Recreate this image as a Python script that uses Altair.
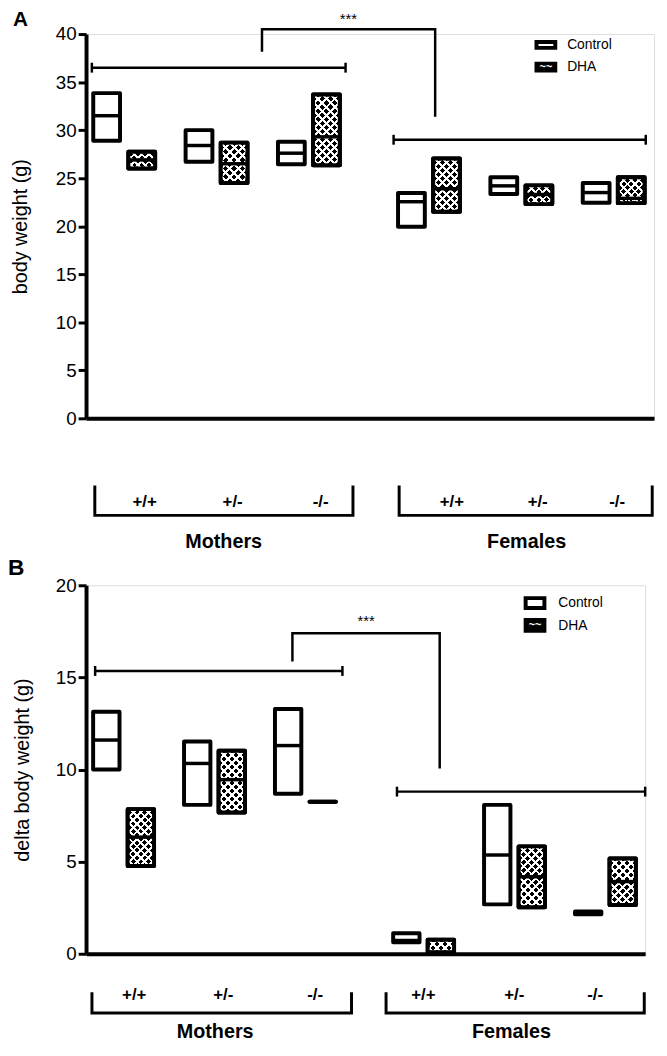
import altair as alt

FONT = "Liberation Sans"

GROUPS = ["Mothers", "Females"]
GENOTYPES = ["+/+", "+/-", "-/-"]
TREATMENTS = ["Control", "DHA"]

# Floating bars (min..max) with a line at the mean.
# Order: Mothers +/+ Control, DHA, +/- Control, DHA, -/- Control, DHA, then Females the same way.
A_MIN = [28.9, 26.0, 26.7, 24.5, 26.45, 26.35, 19.95, 21.5, 23.35, 22.3, 22.45, 22.4]
A_MAX = [33.85, 27.75, 30.0, 28.7, 28.8, 33.7, 23.45, 27.05, 25.1, 24.25, 24.5, 25.1]
A_MEAN = [31.5, 26.9, 28.4, 26.5, 27.6, 29.3, 22.55, 23.9, 24.2, 23.3, 23.5, 22.9]

B_MIN = [10.0, 4.76, 8.08, 7.67, 8.68, 8.25, 0.63, 0.0, 2.68, 2.52, 2.14, 2.65]
B_MAX = [13.14, 7.85, 11.52, 11.02, 13.28, 8.25, 1.11, 0.76, 8.08, 5.83, 2.29, 5.17]
B_MEAN = [11.6, 6.33, 10.33, 9.45, 11.3, 8.25, 0.72, 0.1, 5.36, 4.18, 2.2, 3.92]

A_TICKS = [0, 5, 10, 15, 20, 25, 30, 35, 40]
B_TICKS = [0, 5, 10, 15, 20]

# significance annotations (x in slot units, y in data units)
A_SIG_Y = [36.5, 29.0]
A_SIG_X = [0.063, 3.33]
A_SIG_X2 = [2.81, 6.06]
A_BRACKET_X = [1.905, 1.905, 3.78, 3.78]
A_BRACKET_Y = [38.15, 40.5, 40.5, 31.4]
A_STARS = [2.84, 41.6]

B_SIG_Y = [15.35, 8.8]
B_SIG_X = [0.1, 3.42]
B_SIG_X2 = [2.82, 6.15]
B_BRACKET_X = [2.27, 2.27, 3.89, 3.89]
B_BRACKET_Y = [15.87, 17.4, 17.4, 10.05]
B_STARS = [3.08, 18.05]

# category labels under the axis
A_LABEL_X = [0.635, 1.587, 2.54, 3.96, 4.89, 5.75]
A_LABEL_Y = -8.74
A_SPANS = [[0.095, 2.89], [3.39, 6.13]]
A_BRACE_Y = [-7.0, -10.1]
A_GROUP_X = [1.49, 4.77]
A_GROUP_Y = -12.85

B_LABEL_X = [0.53, 1.51, 2.52, 3.71, 4.71, 5.6]
B_LABEL_Y = -2.25
B_SPANS = [[0.065, 2.92], [3.3, 6.14]]
B_BRACE_Y = [-2.09, -3.22]
B_GROUP_X = [1.42, 4.68]
B_GROUP_Y = -4.24

XDOM = 6.15
PAIR0 = 0.413
GROUP_SHIFT = 3.3
HALF_OFF = 0.19
HALF_W = 0.145


def stripes(w, h, base, line, direction, pitch=8.0, duty=0.36):
    n = max(2, int(round((w + h) / pitch)))
    k = (w + h) / (w * w + h * h)
    if direction == 1:
        x1, y1, x2, y2 = 0, 0, w * k, h * k
    else:
        x1, y1, x2, y2 = 1, 0, 1 - w * k, h * k
    stops = []
    for i in range(n):
        a = i / n
        b = (i + duty) / n
        c = (i + 1) / n
        stops += [
            {"offset": a, "color": line},
            {"offset": b, "color": line},
            {"offset": b, "color": base},
            {"offset": c, "color": base},
        ]
    return {"gradient": "linear", "x1": x1, "y1": y1, "x2": x2, "y2": y2, "stops": stops}


def bar_rows(mins, maxs, means, pxx, pxy):
    rows = []
    k = 0
    for gi, g in enumerate(GROUPS):
        for ji, gt in enumerate(GENOTYPES):
            for ti, t in enumerate(TREATMENTS):
                c = PAIR0 + ji + gi * GROUP_SHIFT + (HALF_OFF if ti else -HALF_OFF)
                lo, hi, mu = mins[k], maxs[k], means[k]
                w = 2 * HALF_W * pxx
                h = max((hi - lo) * pxy, 0.5)
                row = dict(group=g, genotype=gt, treatment=t, lo=lo, hi=hi, mean=mu,
                           xa=c - HALF_W, xb=c + HALF_W)
                if t == "DHA":
                    row["f1"] = stripes(w, h, "#000000", "#ffffff", 1)
                    row["f2"] = stripes(w, h, "rgba(255,255,255,0)", "#ffffff", 2)
                else:
                    row["f1"] = "#ffffff"
                    row["f2"] = "rgba(255,255,255,0)"
                rows.append(row)
                k += 1
    return rows


def panel(cfg):
    pxx = cfg["w"] / XDOM
    pxy = cfg["h"] / cfg["ymax"]
    xscale = alt.Scale(domain=[0, XDOM], nice=False, zero=False)
    yscale = alt.Scale(domain=[0, cfg["ymax"]], nice=False, zero=False)
    xaxis = alt.Axis(domain=True, domainWidth=4, domainColor="black", ticks=False,
                     labels=False, grid=False)
    yaxis = alt.Axis(values=cfg["ticks"], grid=False, domainWidth=4, domainColor="black",
                     tickSize=8, tickWidth=3, tickColor="black", labelFontSize=19,
                     labelColor="black", labelFont=FONT, labelPadding=2,
                     titleFontSize=20, titleFont=FONT, titleFontWeight="normal",
                     titleColor="black", titleX=cfg["title_x"], titleBaseline="middle")

    def X(f):
        return alt.X(f, type="quantitative", scale=xscale, title=None, axis=xaxis)

    def Y(f):
        return alt.Y(f, type="quantitative", scale=yscale, title=cfg["ytitle"], axis=yaxis)

    rows = bar_rows(cfg["min"], cfg["max"], cfg["mean"], pxx, pxy)
    dha = [r for r in rows if r["treatment"] == "DHA"]

    base = alt.Chart(alt.Data(values=rows)).mark_rect(
        stroke="black", strokeWidth=4, strokeJoin="round").encode(
        x=X("xa"), x2=alt.X2("xb"), y=Y("lo"), y2=alt.Y2("hi"),
        fill=alt.Fill("f1:N", scale=None))
    over = alt.Chart(alt.Data(values=dha)).mark_rect(strokeWidth=0).encode(
        x=X("xa"), x2=alt.X2("xb"), y=Y("lo"), y2=alt.Y2("hi"),
        fill=alt.Fill("f2:N", scale=None))
    outline = alt.Chart(alt.Data(values=dha)).mark_rect(
        fill="transparent", stroke="black", strokeWidth=4, strokeJoin="round").encode(
        x=X("xa"), x2=alt.X2("xb"), y=Y("lo"), y2=alt.Y2("hi"))
    means = alt.Chart(alt.Data(values=rows)).mark_rule(
        color="black", strokeWidth=3.5, strokeCap="butt").encode(
        x=X("xa"), x2=alt.X2("xb"), y=Y("mean"))

    sig_rows = [dict(xa=a, xb=b, y=y) for a, b, y in zip(cfg["sig_x"], cfg["sig_x2"], cfg["sig_y"])]
    cap = 5.0 / pxy
    cap_rows = []
    for r in sig_rows:
        for xx in (r["xa"], r["xb"]):
            cap_rows.append(dict(x=xx, y=r["y"] - cap, y2=r["y"] + cap))
    sig = alt.Chart(alt.Data(values=sig_rows)).mark_rule(color="black", strokeWidth=2.5).encode(
        x=X("xa"), x2=alt.X2("xb"), y=Y("y"))
    caps = alt.Chart(alt.Data(values=cap_rows)).mark_rule(color="black", strokeWidth=2.5).encode(
        x=X("x"), y=Y("y"), y2=alt.Y2("y2"))

    br_rows = [dict(x=x, y=y, o=i) for i, (x, y) in enumerate(zip(cfg["br_x"], cfg["br_y"]))]
    bracket = alt.Chart(alt.Data(values=br_rows)).mark_line(
        color="black", strokeWidth=2.5, strokeJoin="miter", strokeCap="butt").encode(
        x=X("x"), y=Y("y"), order=alt.Order("o:Q"))
    stars = alt.Chart(alt.Data(values=[dict(x=cfg["stars"][0], y=cfg["stars"][1])])).mark_text(
        text="***", fontSize=15, font=FONT, color="black").encode(x=X("x"), y=Y("y"))

    lab_rows = []
    for gi, g in enumerate(GROUPS):
        for ji, gt in enumerate(GENOTYPES):
            lab_rows.append(dict(x=cfg["label_x"][gi * 3 + ji], y=cfg["label_y"], t=gt))
    labels = alt.Chart(alt.Data(values=lab_rows)).mark_text(
        fontSize=17, fontWeight="bold", font=FONT, color="black").encode(
        x=X("x"), y=Y("y"), text="t:N")

    brace_rows = []
    ytop, ybot = cfg["brace_y"]
    for gi, (a, b) in enumerate(cfg["spans"]):
        for i, (xx, yy) in enumerate([(a, ytop), (a, ybot), (b, ybot), (b, ytop)]):
            brace_rows.append(dict(x=xx, y=yy, o=i, g=GROUPS[gi]))
    braces = alt.Chart(alt.Data(values=brace_rows)).mark_line(
        color="black", strokeWidth=3, strokeJoin="miter", strokeCap="butt").encode(
        x=X("x"), y=Y("y"), order=alt.Order("o:Q"), detail="g:N")

    grp_rows = [dict(x=cfg["group_x"][gi], y=cfg["group_y"], t=g) for gi, g in enumerate(GROUPS)]
    grp = alt.Chart(alt.Data(values=grp_rows)).mark_text(
        fontSize=20, fontWeight="bold", font=FONT, color="black").encode(
        x=X("x"), y=Y("y"), text="t:N")

    one = alt.Data(values=[{"k": 1}])
    # invisible spacer fixing the panel's top-left bound
    spacer = alt.Chart(one).mark_rect(opacity=0).encode(
        x=alt.value(cfg["pad_left"]), x2=alt.value(0),
        y=alt.value(cfg["pad_top"]), y2=alt.value(0))
    letter = alt.Chart(one).mark_text(
        text=cfg["letter"], fontSize=cfg["letter_size"], fontWeight="bold", font=FONT,
        color="black", align="left", baseline="alphabetic").encode(
        x=alt.value(cfg["letter_x"]), y=alt.value(cfg["letter_y"]))

    lg = cfg["legend"]
    sw_c = alt.Chart(one).mark_rect(fill="white", stroke="black", strokeWidth=4).encode(
        x=alt.value(lg["sx"]), x2=alt.value(lg["sx2"]),
        y=alt.value(lg["rows"][0][0]), y2=alt.value(lg["rows"][0][1]))
    sw_d = alt.Chart(one).mark_rect(fill="black", stroke="black", strokeWidth=4).encode(
        x=alt.value(lg["sx"]), x2=alt.value(lg["sx2"]),
        y=alt.value(lg["rows"][1][0]), y2=alt.value(lg["rows"][1][1]))
    wave = alt.Chart(one).mark_text(text="~~", fontSize=11, fontWeight="bold", color="white",
                                    font=FONT, baseline="middle").encode(
        x=alt.value((lg["sx"] + lg["sx2"]) / 2),
        y=alt.value((lg["rows"][1][0] + lg["rows"][1][1]) / 2))
    t_c = alt.Chart(one).mark_text(text=TREATMENTS[0], fontSize=14, font=FONT, color="black",
                                   align="left", baseline="middle").encode(
        x=alt.value(lg["tx"]), y=alt.value(lg["ty"][0]))
    t_d = alt.Chart(one).mark_text(text=TREATMENTS[1], fontSize=14, font=FONT, color="black",
                                   align="left", baseline="middle").encode(
        x=alt.value(lg["tx"]), y=alt.value(lg["ty"][1]))

    return alt.layer(base, over, outline, means, sig, caps, bracket, stars, labels, braces,
                     grp, spacer, letter, sw_c, sw_d, wave, t_c, t_d).properties(
        width=cfg["w"], height=cfg["h"])


cfgA = dict(letter="A", min=A_MIN, max=A_MAX, mean=A_MEAN, ticks=A_TICKS, ymax=40,
            w=575, h=389, ytitle="body weight (g)", title_x=-66,
            pad_left=-75, pad_top=-26, letter_x=-74, letter_size=21, letter_y=-8,
            sig_x=A_SIG_X, sig_x2=A_SIG_X2, sig_y=A_SIG_Y,
            br_x=A_BRACKET_X, br_y=A_BRACKET_Y, stars=A_STARS,
            label_x=A_LABEL_X, label_y=A_LABEL_Y, spans=A_SPANS, brace_y=A_BRACE_Y,
            group_x=A_GROUP_X, group_y=A_GROUP_Y,
            legend=dict(sx=456, sx2=475, rows=[(8, 14), (30, 37)], tx=487, ty=[11, 33]))

cfgB = dict(letter="B", min=B_MIN, max=B_MAX, mean=B_MEAN, ticks=B_TICKS, ymax=20,
            w=566, h=373, ytitle="delta body weight (g)", title_x=-64,
            pad_left=-83, pad_top=-28, letter_x=-79, letter_size=23, letter_y=-10.5,
            sig_x=B_SIG_X, sig_x2=B_SIG_X2, sig_y=B_SIG_Y,
            br_x=B_BRACKET_X, br_y=B_BRACKET_Y, stars=B_STARS,
            label_x=B_LABEL_X, label_y=B_LABEL_Y, spans=B_SPANS, brace_y=B_BRACE_Y,
            group_x=B_GROUP_X, group_y=B_GROUP_Y,
            legend=dict(sx=445, sx2=464, rows=[(13, 23), (35, 46)], tx=478, ty=[18, 41]))

chart = alt.vconcat(panel(cfgA), panel(cfgB), spacing=4).properties(
    padding={"top": -7, "left": -5, "right": 0, "bottom": -2}
).configure_view(stroke=None).configure(font=FONT)

chart.save("out.html", embed_options={"renderer": "svg", "actions": False})
